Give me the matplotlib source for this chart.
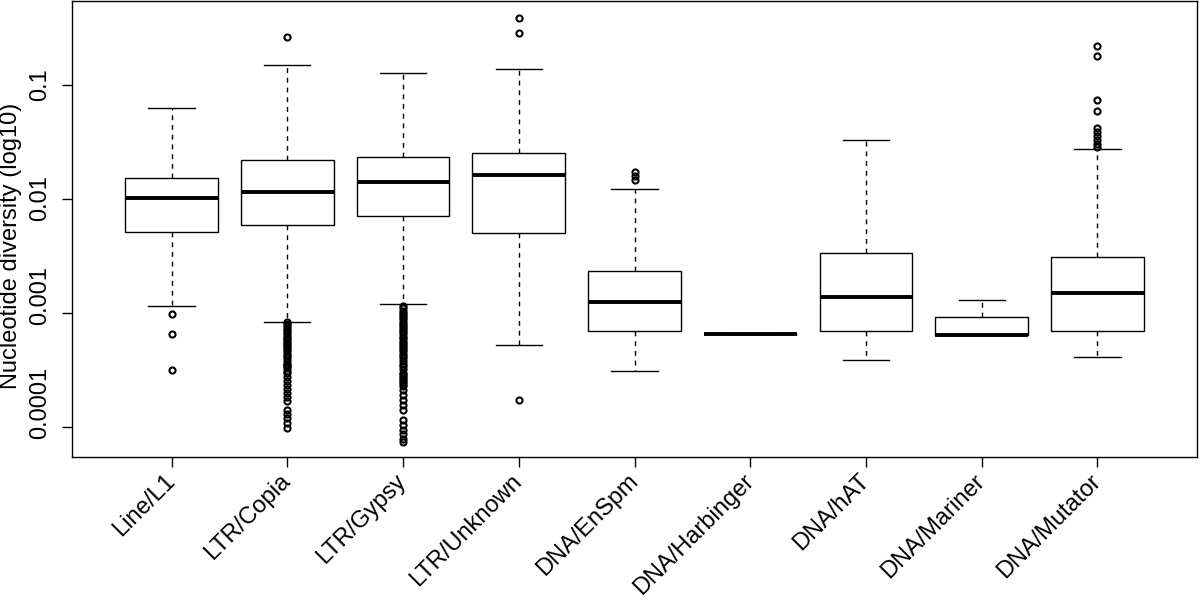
import matplotlib
matplotlib.use("Agg")
import matplotlib.pyplot as plt
import matplotlib.transforms as mtransforms

plt.rcParams['font.family'] = ['Liberation Sans', 'DejaVu Sans']

categories = ["Line/L1", "LTR/Copia", "LTR/Gypsy", "LTR/Unknown", "DNA/EnSpm",
              "DNA/Harbinger", "DNA/hAT", "DNA/Mariner", "DNA/Mutator"]

whisker_low = [0.00115, 0.00083, 0.0012, 0.000524, 0.00031, 0.000655, 0.000387, 0.000641, 0.000411]
q1 = [0.00514, 0.0059, 0.0071, 0.00504, 0.000695, 0.000655, 0.000695, 0.000641, 0.000695]
median = [0.0102, 0.0115, 0.0141, 0.0163, 0.00125, 0.000655, 0.00138, 0.000641, 0.0015]
q3 = [0.0153, 0.022, 0.0234, 0.0253, 0.00233, 0.000655, 0.00336, 0.000923, 0.0031]
whisker_high = [0.0628, 0.15, 0.127, 0.138, 0.0123, 0.000655, 0.033, 0.0013, 0.0275]

outliers_line = [0.00098, 0.000655, 0.000316]
outliers_copia = [0.264,
                  0.00083, 0.0008, 0.00077, 0.00074, 0.00071, 0.00068, 0.00065, 0.00062,
                  0.0006, 0.00058, 0.00056, 0.00054, 0.00052, 0.0005, 0.00048, 0.00046,
                  0.00044, 0.00042, 0.0004, 0.00038, 0.00036, 0.00035, 0.00034, 0.00033,
                  0.00031, 0.0003,
                  0.000275, 0.000254, 0.000234, 0.000215, 0.000199, 0.000183, 0.000169,
                  0.000141, 0.00013, 0.00012, 0.000108, 0.000098]
outliers_gypsy = [0.00115, 0.0011, 0.00105, 0.001, 0.00096, 0.00092, 0.00088, 0.00084,
                  0.0008, 0.00077, 0.00074, 0.00071, 0.00068, 0.00065, 0.00062, 0.0006,
                  0.00057, 0.00055, 0.00052, 0.0005, 0.00048, 0.00046, 0.00044, 0.00042,
                  0.0004, 0.00038, 0.00036, 0.00034, 0.00032, 0.0003, 0.00029, 0.00028,
                  0.00027, 0.00026, 0.00025, 0.00024, 0.00023,
                  0.000211, 0.000191, 0.000173, 0.000157, 0.000141,
                  0.000115, 0.000104, 0.000095, 0.000086, 0.000078, 0.0000735]
outliers_unknown = [0.387, 0.286, 0.000173]
outliers_enspm = [0.0173, 0.0159, 0.0147]
outliers_harbinger = []
outliers_hat = []
outliers_mariner = []
outliers_mutator = [0.22, 0.18, 0.074, 0.059, 0.042, 0.0388, 0.0357, 0.033, 0.0304, 0.0286]

outliers = [outliers_line, outliers_copia, outliers_gypsy, outliers_unknown, outliers_enspm,
            outliers_harbinger, outliers_hat, outliers_mariner, outliers_mutator]

ytick_values = [0.0001, 0.001, 0.01, 0.1]
ytick_labels = ["0.0001", "0.001", "0.01", "0.1"]
ylabel_offsets_px = [24, 18, 1, 0]

fig = plt.figure(figsize=(12, 6.01), dpi=100)
W, H = 1200, 601
ax = fig.add_axes([72 / W, 1 - 457 / H, (1197 - 72) / W, (457 - 1) / H])

stats = []
for i in range(len(categories)):
    stats.append(dict(label=categories[i], whislo=whisker_low[i], q1=q1[i], med=median[i],
                      q3=q3[i], whishi=whisker_high[i], fliers=outliers[i]))

positions = list(range(1, len(categories) + 1))
ax.bxp(stats, positions=positions, widths=0.8, capwidths=0.4, patch_artist=True,
       boxprops=dict(facecolor='white', edgecolor='black', linewidth=1.0),
       medianprops=dict(color='black', linewidth=2.8, solid_capstyle='butt'),
       whiskerprops=dict(color='black', linewidth=1.0, linestyle=(0, (3.5, 3.5))),
       capprops=dict(color='black', linewidth=1.0),
       flierprops=dict(marker='o', markersize=4.4, markerfacecolor='none',
                       markeredgecolor='black', markeredgewidth=1.5, linestyle='none'))

ax.set_yscale('log')
ax.set_ylim(10 ** -4.263, 10 ** -0.263)
ax.set_xlim(0.5 - 0.36, 9.5 + 0.36)

ax.set_yticks(ytick_values)
ax.set_yticklabels([])
ax.yaxis.set_minor_locator(matplotlib.ticker.NullLocator())
ax.tick_params(axis='y', length=7.2, width=1.0)
for v, lab, off in zip(ytick_values, ytick_labels, ylabel_offsets_px):
    tr = mtransforms.blended_transform_factory(fig.transFigure, ax.transData) + \
        mtransforms.ScaledTranslation(0, off / 100, fig.dpi_scale_trans)
    ax.text(40 / W, v, lab, transform=tr, rotation=90, ha='center', va='center',
            fontsize=17, clip_on=False)

ax.set_xticks(positions)
ax.set_xticklabels(categories, rotation=45, ha='right', va='center',
                   rotation_mode='anchor', fontsize=17)
ax.tick_params(axis='x', length=7.2, width=1.0, pad=8)

fig.text(11 / W, 1 - 246 / H, "Nucleotide diversity (log10)", rotation=90,
         ha='center', va='center', fontsize=17)

for s in ax.spines.values():
    s.set_linewidth(1.0)
    s.set_color('black')

fig.savefig("out.png", dpi=100)
